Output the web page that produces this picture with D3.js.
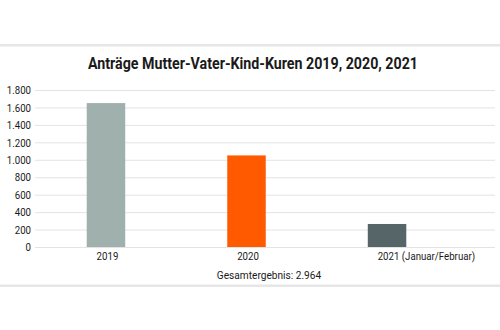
<!DOCTYPE html>
<html>
<head>
<meta charset="utf-8">
<script src="https://cdn.jsdelivr.net/npm/d3@7"></script>
<style>
  html, body { margin: 0; padding: 0; background: #ffffff; }
  svg { display: block; }
  text { font-family: Roboto, "Liberation Sans", sans-serif; fill: #1a1a1a; }
</style>
</head>
<body>
<svg id="chart" width="500" height="330"></svg>
<script>
// Anträge Mutter-Vater-Kind-Kuren je Jahr
const categories = ["2019", "2020", "2021"];
const categoryLabels = ["2019", "2020", "2021 (Januar/Februar)"];
const values = [1650, 1050, 264];
const barColors = ["#a0b0ad", "#ff5a00", "#566668"];
const yTicks = [0, 200, 400, 600, 800, 1000, 1200, 1400, 1600, 1800];
const title = "Anträge Mutter-Vater-Kind-Kuren 2019, 2020, 2021";
const totalLabel = "Gesamtergebnis: 2.964";

const svg = d3.select("#chart");
const W = 500;
const NARROW = 0.84;   // condensed look for all small texts
const SMALL = "11.5px";

const fmt = d3.formatLocale({ decimal: ",", thousands: ".", grouping: [3], currency: ["", " €"] }).format(",d");

// squeeze text horizontally to imitate a condensed face
function condense(sel, factor) {
  sel.each(function() {
    const w = this.getComputedTextLength();
    d3.select(this).attr("textLength", w * factor).attr("lengthAdjust", "spacingAndGlyphs");
  });
}

const x = d3.scaleBand()
  .domain(categories)
  .range([35, 458])
  .paddingInner(0.726)
  .paddingOuter(0.368);

const y = d3.scaleLinear()
  .domain([0, 1800])
  .range([247, 90]);

// frame lines above and below the chart
svg.append("rect").attr("x", 0).attr("y", 44).attr("width", W).attr("height", 2.5).attr("fill", "#e6e6e6");
svg.append("rect").attr("x", 0).attr("y", 284.5).attr("width", W).attr("height", 2.5).attr("fill", "#e6e6e6");

// title
svg.append("text")
  .attr("x", 253).attr("y", 69)
  .attr("text-anchor", "middle")
  .style("font-size", "16px")
  .style("font-weight", "bold")
  .attr("textLength", 330)
  .attr("lengthAdjust", "spacingAndGlyphs")
  .text(title);

// y axis: gridlines and labels
const yAxis = d3.axisLeft(y)
  .tickValues(yTicks)
  .tickSize(-(495 - 35))
  .tickPadding(4)
  .tickFormat(d => fmt(d));

const gy = svg.append("g")
  .attr("transform", "translate(35,0)")
  .call(yAxis);
gy.select(".domain").remove();
gy.selectAll(".tick line").attr("stroke", "#e3e3e3").attr("stroke-width", 1);
gy.selectAll(".tick text")
  .attr("fill", "#1a1a1a")
  .style("font-size", SMALL)
  .style("font-family", "Roboto, 'Liberation Sans', sans-serif")
  .call(condense, NARROW);

// bars
svg.append("g").selectAll("rect")
  .data(categories)
  .join("rect")
  .attr("x", d => x(d))
  .attr("width", x.bandwidth())
  .attr("y", (d, i) => y(values[i]))
  .attr("height", (d, i) => y(0) - y(values[i]))
  .attr("fill", (d, i) => barColors[i]);

// category labels: the year is centred under its bar, any note runs on to the right
const labels = svg.append("g").selectAll("text")
  .data(categories)
  .join("text")
  .attr("y", 259.5)
  .style("font-size", SMALL)
  .text((d, i) => categoryLabels[i])
  .call(condense, NARROW);
labels.each(function(d) {
  const probe = svg.append("text").style("font-size", SMALL).text(d);
  const w = probe.node().getComputedTextLength() * NARROW;
  probe.remove();
  d3.select(this).attr("x", x(d) + x.bandwidth() / 2 - w / 2 + 1.5);
});

// total
svg.append("text")
  .attr("x", 269).attr("y", 278.5)
  .attr("text-anchor", "middle")
  .style("font-size", SMALL)
  .text(totalLabel)
  .call(condense, 0.88);
</script>
</body>
</html>
